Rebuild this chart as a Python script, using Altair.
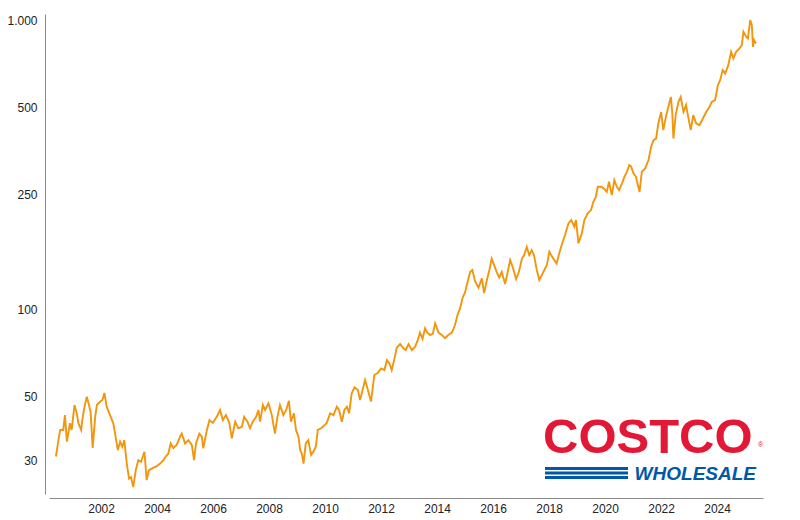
import altair as alt
import pandas as pd

# Share price (EUR), decimal year -> price
years = [
    2000.39, 2000.47, 2000.54, 2000.65, 2000.71, 2000.78, 2000.89, 2000.95, 2001.05, 2001.13,
    2001.19, 2001.29, 2001.33, 2001.40, 2001.49, 2001.57, 2001.63, 2001.70, 2001.79, 2001.85,
    2001.96, 2002.05, 2002.12, 2002.20, 2002.32, 2002.44, 2002.53, 2002.60, 2002.68, 2002.76,
    2002.83, 2002.92, 2003.00, 2003.07, 2003.15, 2003.24, 2003.33, 2003.43, 2003.55, 2003.63,
    2003.71, 2003.83, 2003.99, 2004.11, 2004.23, 2004.31, 2004.40, 2004.49, 2004.58,
    2004.70, 2004.82, 2004.88, 2005.00, 2005.12, 2005.24, 2005.32, 2005.39, 2005.51, 2005.60,
    2005.65, 2005.78, 2005.87, 2005.99, 2006.13, 2006.25, 2006.35, 2006.46, 2006.58, 2006.67,
    2006.79, 2006.90, 2007.03, 2007.11, 2007.23, 2007.32, 2007.42, 2007.54, 2007.62, 2007.68,
    2007.78, 2007.86, 2007.98, 2008.10, 2008.21, 2008.30, 2008.39, 2008.51, 2008.61, 2008.71,
    2008.78, 2008.89, 2008.96, 2009.05, 2009.11,
    2009.17, 2009.23, 2009.31, 2009.40, 2009.50, 2009.58, 2009.67, 2009.74, 2009.86, 2009.98,
    2010.06, 2010.18, 2010.30, 2010.42, 2010.50, 2010.60, 2010.69, 2010.78, 2010.86, 2010.95,
    2011.05, 2011.17, 2011.25, 2011.37, 2011.43, 2011.53, 2011.64, 2011.76, 2011.88, 2012.00,
    2012.12, 2012.21, 2012.30, 2012.38, 2012.48, 2012.56, 2012.68, 2012.80, 2012.88, 2012.98,
    2013.10, 2013.21, 2013.31, 2013.39, 2013.48, 2013.57,
    2013.65, 2013.75, 2013.85, 2013.93, 2014.05, 2014.17, 2014.29, 2014.40, 2014.53, 2014.64,
    2014.73, 2014.82, 2014.92, 2015.00, 2015.08, 2015.18, 2015.26, 2015.36, 2015.48, 2015.60,
    2015.68, 2015.78, 2015.87, 2015.95, 2016.04, 2016.13, 2016.22, 2016.31, 2016.43, 2016.51,
    2016.61, 2016.70, 2016.82, 2016.92, 2017.03, 2017.11, 2017.20, 2017.29, 2017.38, 2017.46,
    2017.56, 2017.65, 2017.74, 2017.83, 2017.92, 2018.01,
    2018.04, 2018.15, 2018.27, 2018.36, 2018.45, 2018.57, 2018.69, 2018.79, 2018.90, 2018.96,
    2019.05, 2019.17, 2019.26, 2019.38, 2019.50, 2019.58, 2019.67, 2019.74, 2019.86, 2019.96,
    2020.06, 2020.14, 2020.24, 2020.33, 2020.42, 2020.50, 2020.60, 2020.69, 2020.78, 2020.86,
    2020.93, 2021.01, 2021.10, 2021.23, 2021.31, 2021.43, 2021.55, 2021.64, 2021.73, 2021.82,
    2021.90, 2022.00, 2022.08, 2022.17, 2022.26, 2022.35, 2022.40, 2022.44,
    2022.52, 2022.62, 2022.70, 2022.80, 2022.89, 2022.98, 2023.06, 2023.15, 2023.25, 2023.37,
    2023.49, 2023.61, 2023.73, 2023.81, 2023.93, 2024.03, 2024.11, 2024.20, 2024.29, 2024.40,
    2024.50, 2024.58, 2024.68, 2024.80, 2024.88, 2024.94, 2025.04, 2025.10, 2025.18, 2025.24,
    2025.28, 2025.32, 2025.39,
]
prices = [
    31.0, 34.9, 38.3, 38.3, 43.1, 34.9, 40.4, 38.3, 46.7, 43.8,
    40.4, 38.3, 41.4, 45.6, 49.9, 46.7, 43.8, 33.2, 42.5, 46.7,
    47.9, 48.6, 51.4, 46.1, 43.1, 40.3, 35.8, 32.6, 34.9, 33.5,
    35.3, 29.3, 26.0, 26.3, 24.3, 27.8, 30.1, 29.7, 32.2, 25.7,
    27.8, 28.2, 28.7, 29.3, 30.1, 31.0, 31.7, 34.4, 33.1,
    34.0, 36.3, 37.2, 34.4, 35.3, 34.0, 30.1, 34.4, 37.2, 36.3,
    33.1, 38.3, 41.4, 40.5, 42.5, 44.9, 41.4, 43.1, 40.5, 35.8,
    40.9, 38.8, 39.3, 42.5, 40.9, 38.8, 40.9, 42.5, 44.9, 40.9,
    46.7, 44.9, 47.3, 43.1, 37.2, 42.5, 46.7, 43.1, 44.9, 48.3,
    40.9, 43.7, 38.3, 36.3, 32.6,
    31.7, 29.3, 34.4, 35.3, 31.4, 32.2, 33.5, 38.3, 38.8, 39.8,
    40.5, 43.7, 43.1, 46.1, 44.9, 40.9, 44.9, 46.1, 43.7, 51.2,
    53.8, 52.6, 48.6, 54.0, 57.0, 52.6, 48.0, 59.3, 60.2, 62.5,
    61.7, 66.8, 65.0, 61.7, 67.7, 73.7, 75.9, 73.2, 72.3, 75.9,
    72.3, 74.1, 78.3, 83.1, 79.1, 86.1,
    83.1, 81.5, 82.5, 89.5, 83.1, 81.5, 79.5, 81.5, 83.1, 88.3,
    95.6, 100.8, 110.3, 114.5, 123.3, 134.6, 136.8, 124.9, 118.8, 128.0,
    113.8, 126.3, 136.8, 149.8, 142.3, 134.6, 128.9, 134.6, 122.4, 132.9,
    148.1, 140.0, 127.3, 134.6, 149.8, 154.1, 164.4, 154.1, 160.3, 154.1,
    136.8, 126.3, 131.4, 136.8, 142.3, 158.2,
    156.0, 149.8, 144.2, 156.0, 166.9, 180.7, 198.3, 203.6, 193.1, 203.6,
    169.2, 183.2, 203.6, 214.7, 220.5, 235.6, 245.0, 265.3, 265.3, 261.6,
    254.6, 276.3, 248.4, 279.9, 265.3, 258.5, 272.3, 287.3, 299.2, 315.4,
    311.4, 295.4, 287.3, 254.6, 299.2, 307.3, 328.2, 364.2, 384.8, 389.5,
    439.2, 481.2, 416.7, 462.7, 501.6, 542.5, 475.8, 389.5,
    469.5, 521.8, 542.5, 482.3, 508.4, 456.3, 416.7, 469.5, 439.9, 433.6,
    456.3, 481.2, 501.6, 521.8, 529.0, 596.1, 620.3, 671.7, 654.2, 699.0,
    777.0, 737.3, 777.0, 798.2, 819.6, 911.3, 875.3, 864.3, 1000.0, 961.0,
    808.0, 852.9, 830.2,
]
y_ticks = [30, 50, 100, 250, 500, 1000]
x_tick_years = [2002, 2004, 2006, 2008, 2010, 2012, 2014, 2016, 2018, 2020, 2022, 2024]


def to_date(y):
    yr = int(y)
    start = pd.Timestamp(year=yr, month=1, day=1)
    end = pd.Timestamp(year=yr + 1, month=1, day=1)
    return (start + (end - start) * (y - yr)).strftime("%Y-%m-%dT%H:%M:%S")


df = pd.DataFrame({"date": [to_date(y) for y in years], "price": prices})

FONT = "Liberation Sans"

line = alt.Chart(df).mark_line(color="#f2960d", strokeWidth=1.9).encode(
    x=alt.X(
        "date:T",
        scale=alt.Scale(
            domain=[alt.DateTime(year=2000, month=2, date=22), alt.DateTime(year=2025, month=8, date=22)],
            nice=False,
        ),
        axis=alt.Axis(
            title=None, grid=False, ticks=False, tickSize=0, labelPadding=5, offset=4,
            values=[alt.DateTime(year=y, month=1, date=1) for y in x_tick_years],
            format="%Y", domainColor="#8a8a8a", labelColor="#222", labelFont=FONT,
            labelFontSize=12, labelOverlap=False,
        ),
    ),
    y=alt.Y(
        "price:Q",
        scale=alt.Scale(type="log", domain=[23.0, 1050.0], nice=False, zero=False),
        axis=alt.Axis(
            title=None, grid=False, ticks=False, tickSize=0, labelPadding=8, offset=4,
            values=y_ticks,
            labelExpr="datum.value == 1000 ? '1.000' : '' + datum.value",
            domainColor="#8a8a8a", labelColor="#222", labelFont=FONT, labelFontSize=12,
        ),
    ),
)

# Costco Wholesale logo (decoration)
logo_red = "#e31837"
logo_blue = "#0058a8"
costco = alt.Chart(pd.DataFrame({"t": ["COSTCO"]})).mark_text(
    font=FONT, fontSize=49, fontWeight="bold", color=logo_red, align="left", baseline="alphabetic"
).encode(text="t:N", x=alt.value(494), y=alt.value(439))
reg = alt.Chart(pd.DataFrame({"t": ["®"]})).mark_text(
    font=FONT, fontSize=7, color=logo_red, align="left", baseline="middle"
).encode(text="t:N", x=alt.value(709), y=alt.value(431))
wholesale = alt.Chart(pd.DataFrame({"t": ["WHOLESALE"]})).mark_text(
    font=FONT, fontSize=19, fontWeight="bold", fontStyle="italic", color=logo_blue,
    align="right", baseline="alphabetic"
).encode(text="t:N", x=alt.value(707), y=alt.value(466))
stripes = alt.layer(*[
    alt.Chart(pd.DataFrame({"k": [i]})).mark_rule(color=logo_blue, strokeWidth=3).encode(
        x=alt.value(496), x2=alt.value(579), y=alt.value(yy)
    )
    for i, yy in enumerate([454.5, 459, 463.5])
])

chart = alt.layer(line, costco, reg, wholesale, stripes).properties(
    width=714, height=480,
    autosize=alt.AutoSizeParams(type="none"),
    padding={"left": 41, "top": 6, "right": 20, "bottom": 20},
    background="white",
).configure_view(stroke=None)

chart.save("out.html", embed_options={"renderer": "svg", "actions": False})
